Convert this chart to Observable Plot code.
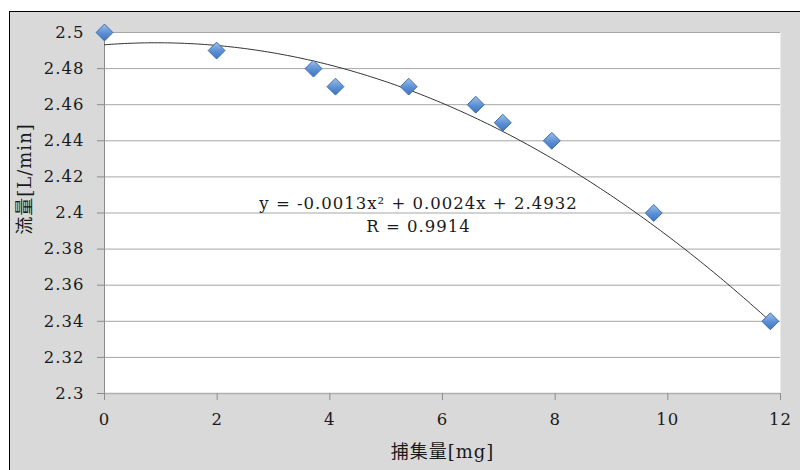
<!DOCTYPE html>
<html>
<head>
<meta charset="utf-8">
<script src="https://cdn.jsdelivr.net/npm/d3@7"></script>
<script src="https://cdn.jsdelivr.net/npm/@observablehq/plot@0.6"></script>
<style>
  html, body { margin: 0; padding: 0; background: #fff; width: 800px; height: 470px; overflow: hidden; }
  #bg { position: absolute; left: 9px; top: 11px; width: 800px; height: 470px; background: #d9d9d9;
        border-left: 1.5px solid #000; border-top: 1.5px solid #000; }
  #chart { position: absolute; left: 0; top: 0; }
  #chart svg, #chart svg text { font-family: "DejaVu Serif", "Liberation Serif", "Noto Sans CJK JP", serif !important; }
  #chart svg text { letter-spacing: 1px; }
</style>
</head>
<body>
<div id="bg"></div>
<div id="chart"></div>
<script>
// Data
const captured = [0, 1.99, 3.71, 4.10, 5.40, 6.59, 7.07, 7.94, 9.75, 11.82];   // 捕集量 [mg]
const flow     = [2.50, 2.49, 2.48, 2.47, 2.47, 2.46, 2.45, 2.44, 2.40, 2.34]; // 流量 [L/min]
// Trendline coefficients as printed on the chart: y = c0 + c1 x + c2 x^2
const trendCoef = [2.4932, 0.0024, -0.0013];
const trendLabel = "y = -0.0013x² + 0.0024x + 2.4932";
const rLabel = "R = 0.9914";
const xTicks = [0, 2, 4, 6, 8, 10, 12];
const yTicks = [2.3, 2.32, 2.34, 2.36, 2.38, 2.4, 2.42, 2.44, 2.46, 2.48, 2.5];
const xLabel = "捕集量[mg]";
const yLabel = "流量[L/min]";

const points = captured.map((x, i) => ({x, y: flow[i]}));
const xMax = d3.max(captured);
const trend = d3.range(0, 201).map(i => {
  const x = xMax * i / 200;
  return {x, y: trendCoef[0] + trendCoef[1] * x + trendCoef[2] * x * x};
});

const chart = Plot.plot({
  width: 800,
  height: 470,
  marginLeft: 104,
  marginRight: 20,
  marginTop: 32,
  marginBottom: 77,
  style: {background: "transparent", fontSize: "16.5px", color: "#1a1a1a"},
  x: {domain: [0, 12]},
  y: {domain: [2.3, 2.5]},
  marks: [
    Plot.frame({fill: "white", stroke: null}),
    Plot.gridY(yTicks, {stroke: "#a6a6a6", strokeOpacity: 1, strokeWidth: 1}),
    Plot.ruleX([0], {stroke: "#8c8c8c"}),
    Plot.ruleY([2.3], {stroke: "#b0b0b0", strokeWidth: 1.5}),
    Plot.axisY(yTicks, {
      tickSize: 7, tickPadding: 13, stroke: "#8c8c8c", fill: "#1a1a1a",
      tickFormat: d => String(+d.toFixed(2)), label: null
    }),
    Plot.axisX(xTicks, {
      tickSize: 7, tickPadding: 13, stroke: "#8c8c8c", fill: "#1a1a1a",
      tickFormat: d => String(d), label: null
    }),
    Plot.line(trend, {x: "x", y: "y", stroke: "#333", strokeWidth: 1}),
    Plot.dot(points, {x: "x", y: "y", symbol: "diamond2", r: 7.6, fill: "url(#diamondGrad)", stroke: "#3d6ead", strokeWidth: 1}),
    Plot.text([trendLabel], {frameAnchor: "top-left", dx: 314, dy: 171, textAnchor: "middle", lineAnchor: "middle", fontSize: 16.5, fill: "#1a1a1a"}),
    Plot.text([rLabel], {frameAnchor: "top-left", dx: 314, dy: 194, textAnchor: "middle", lineAnchor: "middle", fontSize: 16.5, fill: "#1a1a1a"}),
    Plot.text([xLabel], {frameAnchor: "bottom", dy: 59, textAnchor: "middle", lineAnchor: "middle", fontSize: 18, fill: "#1a1a1a"}),
    Plot.text([yLabel], {frameAnchor: "left", dx: -79, dy: -34, rotate: -90, textAnchor: "middle", lineAnchor: "middle", fontSize: 18, fill: "#1a1a1a"})
  ]
});

const defs = d3.select(chart).insert("defs", ":first-child");
const g = defs.append("linearGradient").attr("id", "diamondGrad")
  .attr("x1", "0").attr("y1", "0").attr("x2", "0").attr("y2", "1");
g.append("stop").attr("offset", "0%").attr("stop-color", "#9fc0ea");
g.append("stop").attr("offset", "55%").attr("stop-color", "#5b8fd4");
g.append("stop").attr("offset", "100%").attr("stop-color", "#3f74bd");

document.getElementById("chart").appendChild(chart);
</script>
</body>
</html>
